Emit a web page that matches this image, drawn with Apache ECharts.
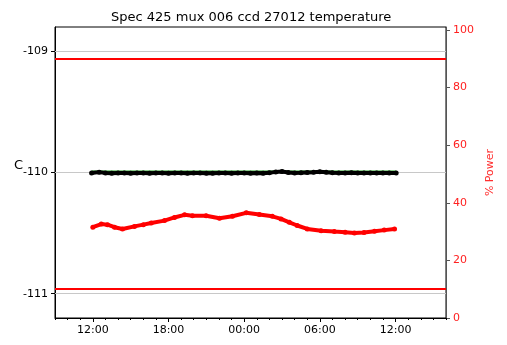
<!DOCTYPE html>
<html>
<head>
<meta charset="utf-8">
<script src="https://cdn.jsdelivr.net/npm/echarts@6/dist/echarts.min.js"></script>
<style>html,body{margin:0;padding:0;background:#fff}#c{width:507px;height:345px}</style>
</head>
<body>
<div id="c"></div>
<script>
// ---- data (hours since 00:00 of day 1) ----
const xMajorTicks = [12, 18, 24, 30, 36];
const xMinorTicks = [9,10,11,13,14,15,16,17,19,20,21,22,23,25,26,27,28,29,31,32,33,34,35,37,38,39,40];
const yTempTicks = [-111, -110, -109];
const tempLimits = [-109.06, -110.96];

const tempHours = [11.9,12.5,13,13.5,14,14.5,15,15.5,16,16.5,17,17.5,18,18.5,19,19.5,20,20.5,21,21.5,22,22.5,23,23.5,24,24.5,25,25.5,26,26.5,27,27.5,28,28.5,29,29.5,30,30.5,31,31.5,32,32.5,33,33.5,34,34.5,35,35.5,36.05];
const tempBlack = [-110.005,-109.997,-110.004,-110.006,-110.004,-110.005,-110.007,-110.004,-110.005,-110.006,-110.004,-110.005,-110.007,-110.005,-110.004,-110.006,-110.005,-110.004,-110.007,-110.006,-110.005,-110.004,-110.006,-110.005,-110.004,-110.006,-110.005,-110.007,-110.003,-109.995,-109.992,-110.0,-110.004,-110.003,-110.0,-109.998,-109.993,-109.998,-110.002,-110.004,-110.005,-110.003,-110.004,-110.005,-110.004,-110.005,-110.004,-110.005,-110.004];
const tempGreen = [-109.989,-109.989,-109.99,-109.989,-109.99,-109.989,-109.99,-109.989,-109.99,-109.989,-109.99,-109.989,-109.99,-109.989,-109.99,-109.989,-109.99,-109.989,-109.99,-109.989,-109.99,-109.989,-109.99,-109.989,-109.99,-109.989,-109.99,-109.989,-109.99,-109.989,-109.99,-109.989,-109.99,-109.989,-109.99,-109.989,-109.99,-109.989,-109.99,-109.989,-109.99,-109.989,-109.99,-109.989,-109.99,-109.989,-109.99,-109.989,-109.99];

const powerHours = [12.0,12.67,13.16,13.72,14.35,15.3,16.0,16.63,17.68,18.47,19.27,19.9,20.98,22.04,23.07,24.16,25.2,26.23,26.92,27.58,28.2,29.0,30.1,31.15,32.0,32.74,33.5,34.33,35.1,35.92];
const powerValues = [31.5,32.6,32.4,31.5,30.9,31.8,32.4,33.0,33.8,34.9,35.8,35.5,35.5,34.6,35.3,36.5,35.9,35.3,34.4,33.2,32.1,30.9,30.3,30.0,29.8,29.5,29.7,30.1,30.5,30.9];

const pairs = (xs, ys) => xs.map((x, i) => [x, ys[i]]);
const font = 'DejaVu Sans';
const fmt = v => { const h = ((v % 24) + 24) % 24; return (h < 10 ? '0' : '') + h + ':00'; };

const chart = echarts.init(document.getElementById('c'), null, {renderer: 'canvas'});
chart.setOption({
  animation: false,
  backgroundColor: '#fff',
  title: {
    text: 'Spec 425 mux 006 ccd 27012 temperature',
    left: 106, top: 6,
    textStyle: {fontFamily: font, fontSize: 13, fontWeight: 'normal', color: '#000'}
  },
  grid: {left: 55, right: 61, top: 27, bottom: 27, show: true, borderColor: '#000', borderWidth: 1, backgroundColor: 'transparent'},
  graphic: [{
    type: 'text', left: 14, top: 159,
    style: {text: 'C', font: '13px "DejaVu Sans"', fill: '#000'}
  }],
  xAxis: [{
    type: 'value', min: 9, max: 40, position: 'bottom',
    axisLine: {show: true, lineStyle: {color: '#000', width: 1}},
    axisTick: {show: true, customValues: xMajorTicks, length: 4, lineStyle: {color: '#000'}},
    axisLabel: {customValues: xMajorTicks, formatter: fmt, fontFamily: font, fontSize: 11, color: '#000', margin: 7},
    splitLine: {show: false}
  }, {
    type: 'value', min: 9, max: 40, position: 'bottom',
    axisLine: {show: false},
    axisTick: {show: true, customValues: xMinorTicks, length: 2, lineStyle: {color: '#000'}},
    axisLabel: {show: false},
    splitLine: {show: false}
  }],
  yAxis: [{
    type: 'value', min: -111.2, max: -108.8, position: 'left',
    axisLine: {show: true, lineStyle: {color: '#000'}},
    axisTick: {show: true, customValues: yTempTicks, length: 4, lineStyle: {color: '#000'}},
    axisLabel: {customValues: yTempTicks, fontFamily: font, fontSize: 11, color: '#000', margin: 7},
    splitLine: {show: false}
  }, {
    type: 'value', min: 0, max: 101, interval: 20, position: 'right',
    name: '% Power', nameLocation: 'middle', nameRotate: 90, nameGap: 31,
    nameTextStyle: {fontFamily: font, fontSize: 11, color: '#ff3030'},
    axisLine: {show: true, lineStyle: {color: '#555'}},
    axisTick: {show: true, length: 4, lineStyle: {color: '#555'}},
    axisLabel: {fontFamily: font, fontSize: 11, color: '#ff2020', margin: 7},
    splitLine: {show: false}
  }],
  series: [{
    name: 'grid', type: 'line', xAxisIndex: 0, yAxisIndex: 0, data: [], z: 1,
    markLine: {
      z: 1, silent: true, symbol: 'none', label: {show: false},
      lineStyle: {color: '#c8c8c8', width: 1, type: 'solid'},
      data: yTempTicks.map(v => ({yAxis: v}))
    }
  }, {
    name: 'limits', type: 'line', xAxisIndex: 0, yAxisIndex: 0, data: [], z: 2,
    markLine: {
      z: 2, silent: true, symbol: 'none', label: {show: false},
      lineStyle: {color: '#ff0000', width: 2, type: 'solid'},
      data: tempLimits.map(v => ({yAxis: v}))
    }
  }, {
    name: 'green', type: 'line', xAxisIndex: 0, yAxisIndex: 0, z: 3,
    data: pairs(tempHours, tempGreen),
    symbol: 'none', lineStyle: {color: '#1a9a1a', width: 1.5}
  }, {
    name: 'black', type: 'line', xAxisIndex: 0, yAxisIndex: 0, z: 4,
    data: pairs(tempHours, tempBlack),
    symbol: 'circle', symbolSize: 5, showAllSymbol: true,
    itemStyle: {color: '#000', borderWidth: 0},
    lineStyle: {color: '#000', width: 4, opacity: 1}
  }, {
    name: 'power', type: 'line', xAxisIndex: 0, yAxisIndex: 1, z: 4,
    data: pairs(powerHours, powerValues),
    symbol: 'circle', symbolSize: 5, showAllSymbol: true,
    itemStyle: {color: '#ff0000', borderWidth: 0},
    lineStyle: {color: '#ff0000', width: 4}
  }]
});
</script>
</body>
</html>
